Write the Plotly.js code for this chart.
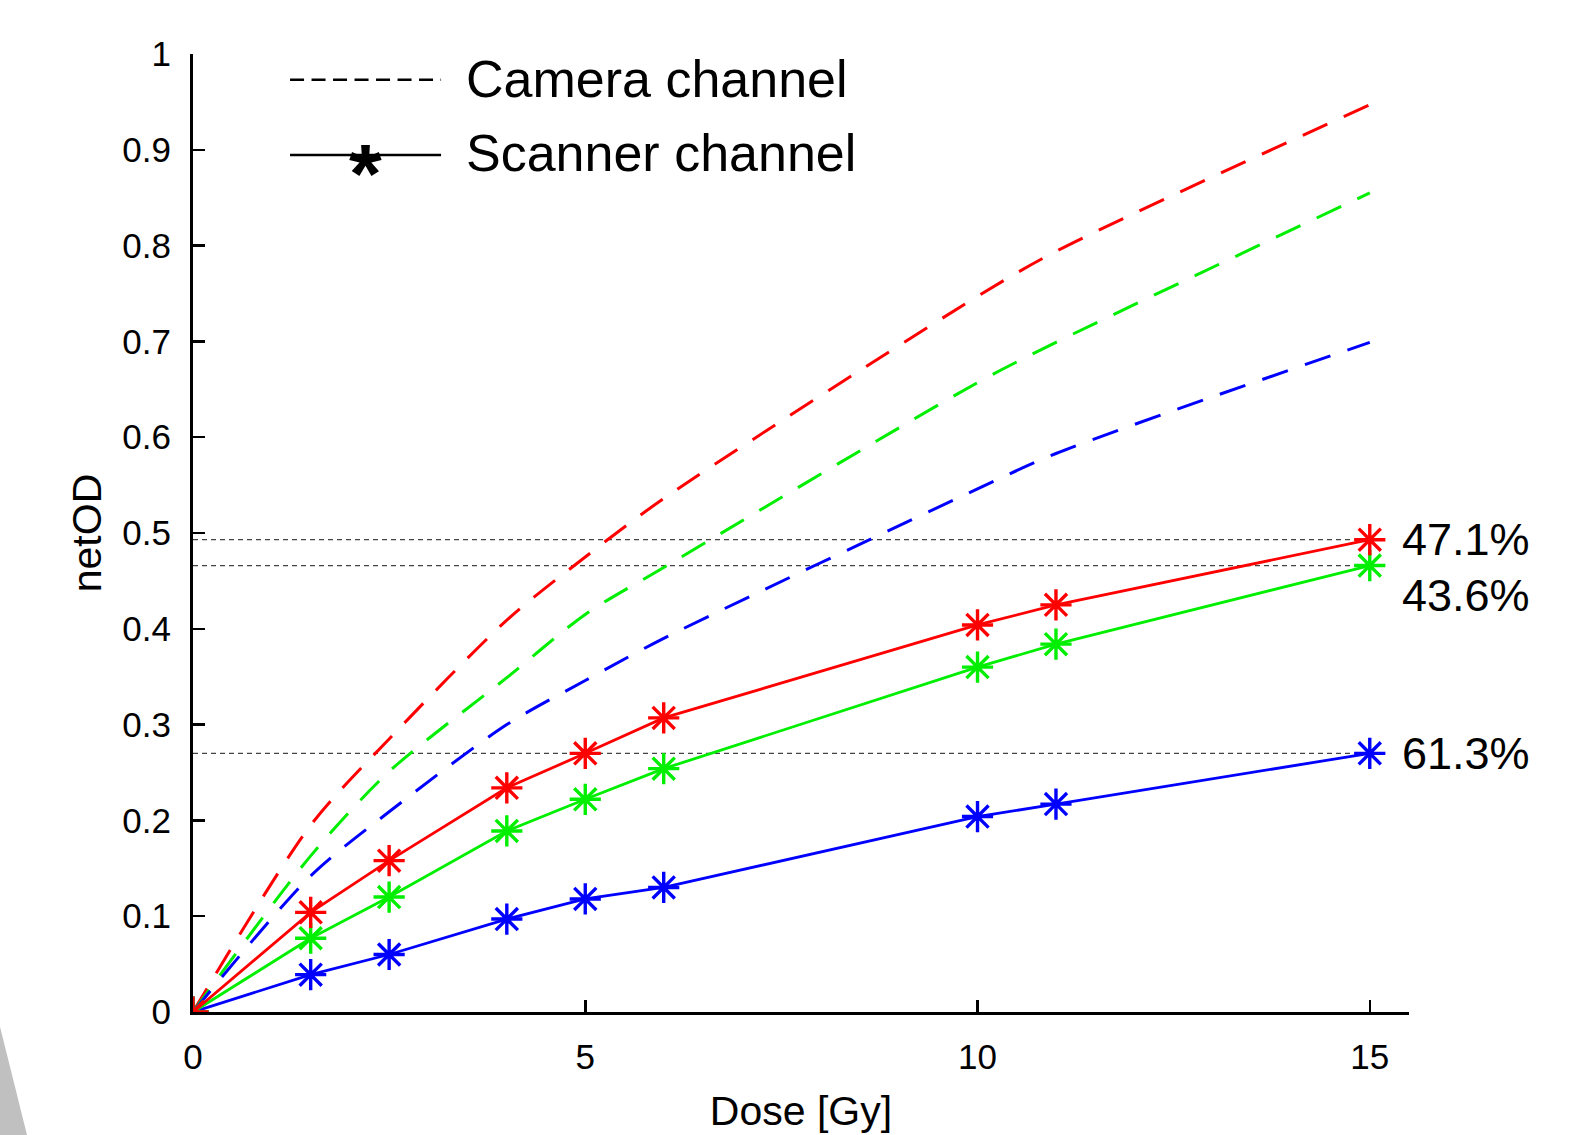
<!DOCTYPE html>
<html>
<head>
<meta charset="utf-8">
<script src="https://cdn.plot.ly/plotly-3.0.1.min.js"></script>
<style>html,body{margin:0;padding:0;background:#fff;}#chart{width:1584px;height:1135px;}</style>
</head>
<body>
<div id="chart"></div>
<script>
// Dose points [Gy]
var dose = [0, 1.5, 2.5, 4, 5, 6, 10, 11, 15];

// Scanner channel netOD (solid lines with markers)
var scannerRed   = [0, 0.104, 0.158, 0.234, 0.270, 0.307, 0.404, 0.425, 0.493];
var scannerGreen = [0, 0.077, 0.120, 0.189, 0.222, 0.254, 0.360, 0.384, 0.466];
var scannerBlue  = [0, 0.039, 0.060, 0.097, 0.118, 0.130, 0.204, 0.217, 0.270];

// Camera channel netOD (dashed lines)
var cameraRed    = [0, 0.195, 0.285, 0.409, 0.475, 0.536, 0.747, 0.794, 0.947];
var cameraGreen  = [0, 0.163, 0.251, 0.349, 0.415, 0.464, 0.657, 0.699, 0.855];
var cameraBlue   = [0, 0.142, 0.209, 0.300, 0.346, 0.390, 0.546, 0.583, 0.699];

// Percent labels at 15 Gy
var pctLabels = ["47.1%", "43.6%", "61.3%"];

var xTicks = [0, 5, 10, 15];
var yTicks = [0, 0.1, 0.2, 0.3, 0.4, 0.5, 0.6, 0.7, 0.8, 0.9, 1];
var yTickText = ["0", "0.1", "0.2", "0.3", "0.4", "0.5", "0.6", "0.7", "0.8", "0.9", "1"];

var colors = {red: "#ff0000", green: "#00ee00", blue: "#0000ff"};
var FONT = "Liberation Sans, Arial, sans-serif";

var traces = [];
var last = dose.length - 1;

// reference horizontal dotted lines at scanner 15 Gy values
[scannerRed, scannerGreen, scannerBlue].forEach(function (s) {
  traces.push({
    x: [dose[0], dose[last]], y: [s[last], s[last]],
    mode: "lines", line: {color: "#444", width: 1.3, dash: "5px,4px"},
    hoverinfo: "skip", showlegend: false
  });
});

// camera dashed curves
[[cameraRed, colors.red], [cameraGreen, colors.green], [cameraBlue, colors.blue]].forEach(function (p) {
  traces.push({
    x: dose, y: p[0], mode: "lines",
    line: {color: p[1], width: 3, dash: "27px,18px", shape: "spline", smoothing: 0.8},
    showlegend: false
  });
});

// scanner solid lines with asterisks
[[scannerBlue, colors.blue], [scannerGreen, colors.green], [scannerRed, colors.red]].forEach(function (p) {
  traces.push({
    x: dose, y: p[0], mode: "lines+markers",
    line: {color: p[1], width: 2.8},
    marker: {symbol: "asterisk-open", size: 26, color: p[1], line: {color: p[1], width: 3.4}},
    showlegend: false
  });
});

// legend samples drawn on an overlay axis spanning the plot area (0..1)
traces.push({
  x: [0.0798, 0.204], y: [0.973, 0.973], xaxis: "x2", yaxis: "y2",
  mode: "lines", line: {color: "#000", width: 2.5, dash: "14px,7.5px"},
  hoverinfo: "skip", showlegend: false
});
traces.push({
  x: [0.0798, 0.204], y: [0.8946, 0.8946], xaxis: "x2", yaxis: "y2",
  mode: "lines", line: {color: "#000", width: 2.5},
  hoverinfo: "skip", showlegend: false
});

var annotations = [
  {xref: "x", yref: "y", x: dose[last], y: scannerRed[last], text: pctLabels[0], showarrow: false,
   xanchor: "left", yanchor: "middle", xshift: 30, font: {family: FONT, size: 45, color: "#000"}},
  {xref: "x", yref: "y", x: dose[last], y: scannerGreen[last], text: pctLabels[1], showarrow: false,
   xanchor: "left", yanchor: "middle", xshift: 30, yshift: -30, font: {family: FONT, size: 45, color: "#000"}},
  {xref: "x", yref: "y", x: dose[last], y: scannerBlue[last], text: pctLabels[2], showarrow: false,
   xanchor: "left", yanchor: "middle", xshift: 30, font: {family: FONT, size: 45, color: "#000"}},
  {xref: "paper", yref: "paper", x: 0.223, y: 0.974, text: "Camera channel", showarrow: false,
   xanchor: "left", yanchor: "middle", font: {family: FONT, size: 52, color: "#000"}},
  {xref: "paper", yref: "paper", x: 0.223, y: 0.897, text: "Scanner channel", showarrow: false,
   xanchor: "left", yanchor: "middle", font: {family: FONT, size: 52, color: "#000"}},
  // legend asterisk glyph
  {xref: "paper", yref: "paper", x: 0.142, y: 0.875, text: "<b>*</b>", showarrow: false,
   xanchor: "center", yanchor: "middle", font: {family: FONT, size: 84, color: "#000"}}
];

var layout = {
  width: 1584, height: 1135,
  paper_bgcolor: "#fff", plot_bgcolor: "#fff",
  margin: {l: 193, r: 175, t: 54, b: 123, pad: 0},
  showlegend: false,
  font: {family: FONT, color: "#000"},
  xaxis: {
    range: [0, 15.5], tickvals: xTicks, ticks: "inside", ticklen: 12, tickwidth: 2.5, tickcolor: "#000",
    showline: true, linewidth: 3, linecolor: "#000", showgrid: false, zeroline: false,
    tickfont: {family: FONT, size: 35, color: "#000"}, ticklabelstandoff: 12,
    title: {text: "Dose [Gy]", font: {family: FONT, size: 41, color: "#000"}, standoff: 22}
  },
  yaxis: {
    range: [0, 1], tickvals: yTicks, ticktext: yTickText, ticks: "inside", ticklen: 12, tickwidth: 2.5, tickcolor: "#000",
    showline: true, linewidth: 3, linecolor: "#000", showgrid: false, zeroline: false,
    tickfont: {family: FONT, size: 35, color: "#000"}, ticklabelstandoff: 12,
    title: {text: "netOD", font: {family: FONT, size: 41, color: "#000"}, standoff: 8}
  },
  xaxis2: {overlaying: "x", range: [0, 1], visible: false, fixedrange: true},
  yaxis2: {overlaying: "y", range: [0, 1], visible: false, fixedrange: true},
  annotations: annotations,
  shapes: [
    {type: "path", xref: "paper", yref: "paper", layer: "above",
     path: "M -0.1587 -0.1284 L -0.1587 -0.0153 L -0.1365 -0.1284 Z",
     fillcolor: "#c0c0c0", line: {width: 0}}
  ]
};

Plotly.newPlot("chart", traces, layout, {staticPlot: true});
</script>
</body>
</html>
